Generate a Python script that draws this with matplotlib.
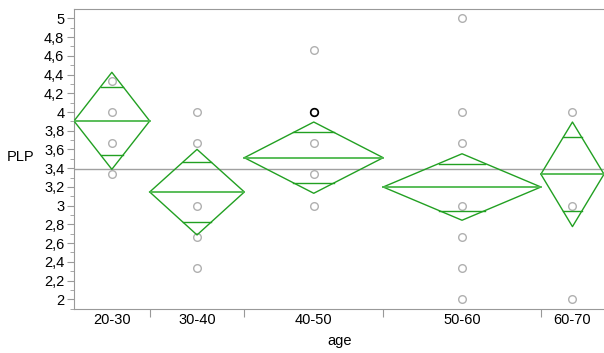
import numpy as np
import matplotlib.pyplot as plt
from matplotlib.ticker import MultipleLocator, FuncFormatter

plt.rcParams['font.family'] = ['Liberation Sans', 'DejaVu Sans']

# data
groups = ['20-30', '30-40', '40-50', '50-60', '60-70']
counts = [12, 15, 22, 25, 10]          # relative group sizes (diamond widths)
means = [3.904, 3.146, 3.512, 3.199, 3.336]
ci_upper = [4.424, 3.601, 3.893, 3.554, 3.893]
ci_lower = [3.388, 2.687, 3.132, 2.844, 2.776]
grand_mean = 3.388
points = [
    [3.333, 3.667, 4.0, 4.333],
    [2.333, 2.667, 3.0, 3.667, 4.0],
    [3.0, 3.333, 3.667, 4.0, 4.667],
    [2.0, 2.333, 2.667, 3.0, 3.667, 4.0, 5.0],
    [2.0, 3.0, 4.0],
]
highlight = (2, 4.0)   # selected point (group index, value)

green = '#22a022'
gray = '#999999'
fs = 10.5

fig = plt.figure(figsize=(6.04, 3.53), dpi=100)
ax = fig.add_axes([0.1225, 0.1246, 0.8775, 0.8491])

edges = np.concatenate([[0], np.cumsum(counts)])
centers = (edges[:-1] + edges[1:]) / 2

ax.axhline(grand_mean, color='#a0a0a0', lw=1, zorder=1)

for i in range(len(groups)):
    x0, x1, xc = edges[i], edges[i + 1], centers[i]
    m, hi, lo = means[i], ci_upper[i], ci_lower[i]
    # diamond
    ax.plot([x0, xc, x1, xc, x0], [m, hi, m, lo, m], color=green, lw=1, zorder=3)
    ax.plot([x0, x1], [m, m], color='#4cb84c', lw=1.3, zorder=3)
    # overlap marks
    half = (x1 - x0) / 2
    f = 1 - 1 / np.sqrt(2)
    for top in (hi, lo):
        y = m + (top - m) / np.sqrt(2)
        ax.plot([xc - f * half, xc + f * half], [y, y], color=green, lw=1, zorder=3)
    # raw points
    ys = points[i]
    ax.plot([xc] * len(ys), ys, 'o', mfc='none', mec='#b0b0b0', ms=5.5, mew=1, zorder=2)

gi, gv = highlight
ax.plot([centers[gi]], [gv], 'o', mfc='none', mec='black', ms=5.5, mew=1.2, zorder=4)

ax.set_xlim(0, edges[-1])
ax.set_ylim(1.896, 5.097)

ax.yaxis.set_major_locator(MultipleLocator(0.2))
ax.yaxis.set_minor_locator(MultipleLocator(0.1))
ax.yaxis.set_major_formatter(FuncFormatter(lambda v, p: ('%.1f' % v).rstrip('0').rstrip('.').replace('.', ',')))
ax.tick_params(axis='y', which='major', length=5, color=gray, labelsize=fs, pad=2)
ax.tick_params(axis='y', which='minor', length=3, color=gray)

ax.set_xticks(edges[1:-1])
ax.set_xticklabels([])
ax.set_xticks(centers, minor=True)
ax.set_xticklabels(groups, minor=True)
ax.tick_params(axis='x', which='major', length=6, color=gray)
ax.tick_params(axis='x', which='minor', length=0, labelsize=fs, pad=3)

for s in ('left', 'bottom', 'top'):
    ax.spines[s].set_color(gray)
ax.spines['right'].set_visible(False)

fig.text(0.012, 0.555, 'PLP', fontsize=fs, ha='left', va='center')
fig.text(0.562, 0.034, 'age', fontsize=fs, ha='center', va='center')

fig.savefig('out.png', dpi=100)
